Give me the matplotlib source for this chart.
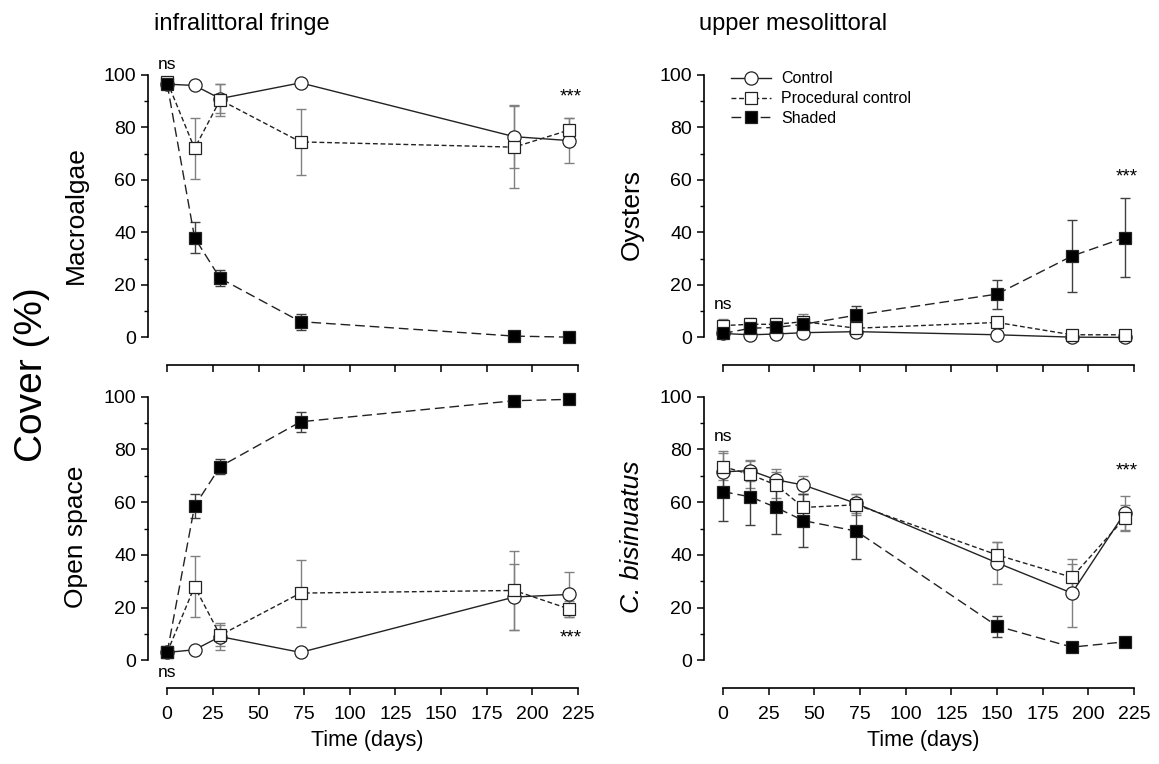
import matplotlib
matplotlib.use('Agg')
import matplotlib.pyplot as plt
from matplotlib.ticker import FixedLocator

plt.rcParams.update({
    'font.family': ['Liberation Sans', 'DejaVu Sans'],
    'font.size': 13,
    'xtick.labelsize': 14,
    'ytick.labelsize': 14,
})

# time points (days)
times_left = [0, 15, 29, 73, 190, 220]
times_right = [0, 15, 29, 44, 73, 150, 191, 220]

# infralittoral fringe - macroalgae
macro_control = [96.5, 96, 91, 97, 76.5, 75]
macro_control_se = [1, 1, 5.5, 1, 12, 8.5]
macro_proc = [97.5, 72, 90.5, 74.5, 72.5, 79]
macro_proc_se = [1, 11.5, 6, 12.5, 15.5, 4.5]
macro_shaded = [96.5, 38, 22.5, 6, 0.5, 0.1]
macro_shaded_se = [1.5, 6, 3, 3, 0.5, 0.3]

# infralittoral fringe - open space
open_control = [3, 4, 9, 3, 24, 25]
open_control_se = [1, 0.5, 5, 0.5, 12.5, 8.5]
open_proc = [3, 28, 9.5, 25.5, 26.5, 19.5]
open_proc_se = [1, 11.7, 4, 12.7, 15, 3]
open_shaded = [3, 58.5, 73.5, 90.5, 98.5, 99]
open_shaded_se = [1, 4.5, 3, 3.8, 0.5, 0.5]

# upper mesolittoral - oysters
oyst_control = [1.5, 1, 1.3, 1.8, 2.2, 1, 0.1, 0]
oyst_control_se = [1, 0.5, 0.5, 0.5, 0.5, 0.5, 0.2, 0.2]
oyst_proc = [4.5, 5, 5, 6, 3.5, 5.7, 1, 1]
oyst_proc_se = [2.5, 2.5, 2.5, 3, 1, 0.5, 0.5, 0.5]
oyst_shaded = [1.5, 3.5, 3.8, 5, 8.5, 16.5, 31, 38]
oyst_shaded_se = [1, 1.5, 1.5, 2, 3.5, 5.5, 13.7, 15]

# upper mesolittoral - C. bisinuatus
bis_control = [71.5, 72, 68.5, 66.5, 59.5, 37, 25.5, 56]
bis_control_se = [8, 4, 4, 3.5, 3.5, 8, 13, 6.5]
bis_proc = [73.5, 70.5, 66.5, 58, 59, 40, 31.5, 54]
bis_proc_se = [5, 5, 5, 5, 4, 5, 5, 5]
bis_shaded = [64, 62, 58, 53, 49, 13, 5, 7]
bis_shaded_se = [11, 10.5, 10, 10, 10.5, 4, 1, 1]

fig = plt.figure(figsize=(11.59, 7.64), dpi=100)

ax_tl = fig.add_axes([0.1277, 0.5223, 0.379, 0.3933])
ax_bl = fig.add_axes([0.1277, 0.0995, 0.379, 0.395])
ax_tr = fig.add_axes([0.6073, 0.5223, 0.379, 0.3933])
ax_br = fig.add_axes([0.6073, 0.0995, 0.379, 0.395])

styles = {
    'Control': dict(ls='-', marker='o', mfc='white', ms=9.5, ecol='#808080'),
    'Procedural control': dict(ls=(0, (3.5, 2)), marker='s', mfc='white', ms=8.5, ecol='#808080'),
    'Shaded': dict(ls=(0, (7, 3.5)), marker='s', mfc='black', ms=8.5, ecol='#404040'),
}


def draw(ax, t, series):
    for name, y, se in series:
        st = styles[name]
        ax.errorbar(t, y, yerr=se, fmt='none', ecolor=st['ecol'], elinewidth=1,
                    capsize=3.5, capthick=1, zorder=2)
        ax.plot(t, y, linestyle=st['ls'], color='#222222', linewidth=1,
                marker=st['marker'], markersize=st['ms'], markerfacecolor=st['mfc'],
                markeredgecolor='#222222', markeredgewidth=0.9, label=name, zorder=3)


draw(ax_tl, times_left, [('Control', macro_control, macro_control_se),
                         ('Procedural control', macro_proc, macro_proc_se),
                         ('Shaded', macro_shaded, macro_shaded_se)])
draw(ax_bl, times_left, [('Control', open_control, open_control_se),
                         ('Procedural control', open_proc, open_proc_se),
                         ('Shaded', open_shaded, open_shaded_se)])
draw(ax_tr, times_right, [('Control', oyst_control, oyst_control_se),
                          ('Procedural control', oyst_proc, oyst_proc_se),
                          ('Shaded', oyst_shaded, oyst_shaded_se)])
draw(ax_br, times_right, [('Control', bis_control, bis_control_se),
                          ('Procedural control', bis_proc, bis_proc_se),
                          ('Shaded', bis_shaded, bis_shaded_se)])

for ax in [ax_tl, ax_bl, ax_tr, ax_br]:
    ax.set_xlim(-10.5, 230)
    ax.set_ylim(-10.5, 104)
    ax.spines['top'].set_visible(False)
    ax.spines['right'].set_visible(False)
    ax.spines['left'].set_bounds(0, 100)
    ax.spines['bottom'].set_bounds(0, 225)
    ax.spines['left'].set_linewidth(1.2)
    ax.spines['bottom'].set_linewidth(1.2)
    ax.set_yticks(range(0, 101, 20))
    ax.yaxis.set_minor_locator(FixedLocator([10, 30, 50, 70, 90]))
    ax.set_xticks(range(0, 226, 25))
    ax.tick_params(axis='both', which='major', length=5, width=1.1, direction='out')
    ax.tick_params(axis='y', which='minor', length=3, width=1)
    ax.tick_params(axis='x', pad=8)

for ax in [ax_tl, ax_tr]:
    ax.tick_params(axis='x', labelbottom=False)

for ax in [ax_bl, ax_br]:
    ax.set_xlabel('Time (days)', fontsize=15.5, labelpad=5)

ax_tl.set_ylabel('Macroalgae', fontsize=19, labelpad=11)
ax_bl.set_ylabel('Open space', fontsize=19, labelpad=11)
ax_tr.set_ylabel('Oysters', fontsize=19, labelpad=11)
ax_br.set_ylabel('C. bisinuatus', fontsize=19, labelpad=11, fontstyle='italic')

# significance labels
ax_tl.text(0, 104, 'ns', ha='center', va='center', fontsize=12.5)
ax_tl.text(221, 91.5, '***', ha='center', va='center', fontsize=13.5)
ax_bl.text(0, -4.5, 'ns', ha='center', va='center', fontsize=12.5)
ax_bl.text(221, 8.5, '***', ha='center', va='center', fontsize=13.5)
ax_tr.text(0, 12.5, 'ns', ha='center', va='center', fontsize=12.5)
ax_tr.text(221, 61, '***', ha='center', va='center', fontsize=13.5)
ax_br.text(0, 85, 'ns', ha='center', va='center', fontsize=12.5)
ax_br.text(221, 72, '***', ha='center', va='center', fontsize=13.5)

ax_tr.legend(loc='upper left', bbox_to_anchor=(0.03, 1.025), frameon=False,
             fontsize=11.5, handlelength=2.5, handletextpad=0.6, labelspacing=0.3)

fig.text(0.209, 0.968, 'infralittoral fringe', ha='center', va='center', fontsize=17)
fig.text(0.684, 0.968, 'upper mesolittoral', ha='center', va='center', fontsize=17)
fig.text(0.028, 0.509, 'Cover (%)', rotation=90, ha='center', va='center', fontsize=28)

plt.savefig('out.png', dpi=100, facecolor='white')
